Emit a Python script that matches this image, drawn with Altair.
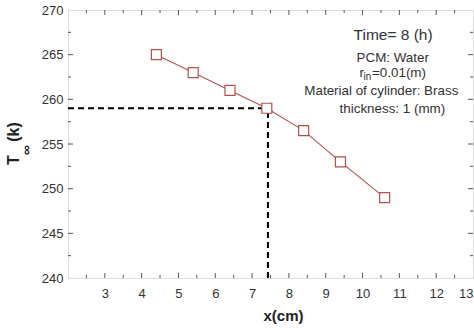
import altair as alt
import pandas as pd

# ---- data ----
x_cm = [4.4, 5.4, 6.4, 7.4, 8.4, 9.4, 10.6]
t_inf = [265, 263, 261, 259, 256.5, 253, 249]

read_x = 7.43
read_t = 259

x_tick_labels = [3, 4, 5, 6, 7, 8, 9, 10, 11, 12, 13]
y_tick_labels = [240, 245, 250, 255, 260, 265, 270]
x_major = [3, 4, 5, 6, 7, 8, 9, 10, 11, 12]
x_minor = [2.5, 3.5, 4.5, 5.5, 6.5, 7.5, 8.5, 9.5, 10.5, 11.5, 12.5]
y_major = [245, 250, 255, 260, 265]
y_minor = [242.5, 247.5, 252.5, 257.5, 262.5, 267.5]

ann_text = ["Time= 8 (h)", "PCM: Water", "Material of cylinder: Brass", "thickness: 1 (mm)"]
ann_x = [10.83, 10.82, 10.51, 10.81]
ann_y = [267.2, 264.6, 260.9, 258.9]

FONT = "Liberation Sans"
W, H = 405, 268
LINE_COLOR = "#b0514d"

xs = alt.Scale(domain=[2, 13], nice=False, zero=False)
ys = alt.Scale(domain=[240, 270], nice=False, zero=False)

XA = alt.Axis(values=x_tick_labels, ticks=False, domain=False, grid=False,
              labelFont=FONT, labelFontSize=13, labelColor="#333",
              labelPadding=9, title="x(cm)", titleFont=FONT,
              titleFontSize=15, titleFontWeight="bold", titleColor="#222",
              titleX=215, titleY=42, titleBaseline="alphabetic")
YA = alt.Axis(values=y_tick_labels, ticks=False, domain=False, grid=False,
              labelFont=FONT, labelFontSize=13, labelColor="#333",
              labelPadding=5, title="")


def X(f):
    return alt.X(f, scale=xs, axis=XA, title="x(cm)")


def Y(f):
    return alt.Y(f, scale=ys, axis=YA, title="")


df = pd.DataFrame({"x": x_cm, "t": t_inf})

base = alt.Chart(df).mark_line(color=LINE_COLOR, strokeWidth=1.1).encode(x=X("x:Q"), y=Y("t:Q"))

points = alt.Chart(df).mark_point(shape="square", size=100, filled=True, fill="white",
                                  stroke=LINE_COLOR, strokeWidth=1.2, opacity=1).encode(
    x=X("x:Q"), y=Y("t:Q"))

hdf = pd.DataFrame({"x0": [2], "x1": [read_x], "y": [read_t]})
hline = alt.Chart(hdf).mark_rule(color="black", strokeWidth=2, strokeDash=[6, 4]).encode(
    x=X("x0:Q"), x2="x1:Q", y=Y("y:Q"))
vdf = pd.DataFrame({"x": [read_x], "y0": [240], "y1": [read_t]})
vline = alt.Chart(vdf).mark_rule(color="black", strokeWidth=2, strokeDash=[6, 4]).encode(
    x=X("x:Q"), y=Y("y0:Q"), y2="y1:Q")

TICK_C = "#555"


def xticks(vals, length):
    d = pd.DataFrame({"v": vals})
    bot = alt.Chart(d).mark_rule(color=TICK_C, strokeWidth=1).encode(
        x=X("v:Q"), y=alt.value(H), y2=alt.value(H - length))
    top = alt.Chart(d).mark_rule(color=TICK_C, strokeWidth=1).encode(
        x=X("v:Q"), y=alt.value(0), y2=alt.value(length))
    return [bot, top]


def yticks(vals, length):
    d = pd.DataFrame({"v": vals})
    left = alt.Chart(d).mark_rule(color=TICK_C, strokeWidth=1).encode(
        y=Y("v:Q"), x=alt.value(0), x2=alt.value(length))
    right = alt.Chart(d).mark_rule(color=TICK_C, strokeWidth=1).encode(
        y=Y("v:Q"), x=alt.value(W), x2=alt.value(W - length))
    return [left, right]


tick_layers = xticks(x_major, 5) + xticks(x_minor, 3) + yticks(y_major, 5) + yticks(y_minor, 3)

adf = pd.DataFrame({"text": ann_text, "x": ann_x, "y": ann_y})
ann_big = alt.Chart(adf.iloc[[0]]).mark_text(font=FONT, fontSize=15.5, color="#333",
                                             align="center", baseline="middle").encode(
    x=X("x:Q"), y=Y("y:Q"), text="text:N")
ann_small = alt.Chart(adf.iloc[1:]).mark_text(font=FONT, fontSize=13.4, color="#333",
                                              align="center", baseline="middle").encode(
    x=X("x:Q"), y=Y("y:Q"), text="text:N")

# r_in = 0.01(m)
rdf = pd.DataFrame({"x": [10.04], "y": [263.0]})
r_main = alt.Chart(rdf).mark_text(font=FONT, fontSize=13.4, color="#333", align="right",
                                  baseline="middle", text="r").encode(x=X("x:Q"), y=Y("y:Q"))
r_sub = alt.Chart(rdf).mark_text(font=FONT, fontSize=10, color="#333", align="left",
                                 baseline="middle", text="in", dx=-0.5, dy=4).encode(
    x=X("x:Q"), y=Y("y:Q"))
r_rest = alt.Chart(rdf).mark_text(font=FONT, fontSize=13.4, color="#333", align="left",
                                  baseline="middle", text="=0.01(m)", dx=8).encode(
    x=X("x:Q"), y=Y("y:Q"))

# y axis title  T∞(k)
tdf = pd.DataFrame({"t": [0]})


def ytitle(txt, px, py, fs):
    return alt.Chart(tdf).mark_text(font=FONT, fontSize=fs, fontWeight="bold", color="#222",
                                    align="center", baseline="middle", angle=270, text=txt).encode(
        x=alt.value(px), y=alt.value(py))


yt = [ytitle("T", -54, 150, 16), ytitle("\u221e", -41, 140, 14), ytitle("(k)", -54, 122, 16)]

chart = alt.layer(base, hline, vline, points, *tick_layers, ann_big, ann_small,
                  r_main, r_sub, r_rest, *yt).properties(
    width=W, height=H,
    autosize=alt.AutoSizeParams(type="none"),
    padding={"left": 68, "top": 10, "right": 1, "bottom": 56},
).configure_view(stroke="#666", strokeWidth=1.2).configure(background="white")

chart.save("out.html", embed_options={"renderer": "svg", "actions": False})
